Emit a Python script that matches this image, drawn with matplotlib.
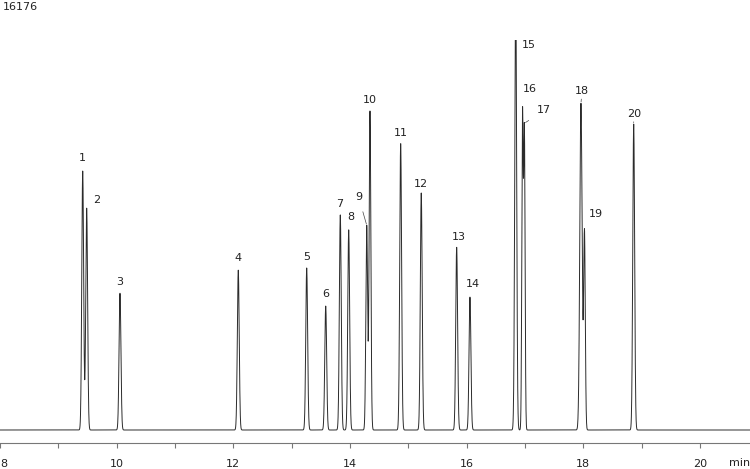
import numpy as np
import matplotlib
matplotlib.use('Agg')
import matplotlib.pyplot as plt

# ------------------------- peak table --------------------------------
peak_ids = [str(i) for i in range(1, 21)]
ret_times = [9.418, 9.486, 10.057, 12.085, 13.258, 13.584, 13.834, 13.978,
             14.287, 14.343, 14.869, 15.222, 15.829, 16.057, 16.841, 16.958,
             16.990, 17.960, 18.020, 18.864]
heights = [10740, 9200, 5680, 6640, 6720, 5140, 8920, 8300,
           8500, 13250, 11900, 9830, 7590, 5520, 18500, 13050,
           12350, 13550, 8200, 12690]
widths = [0.016, 0.016, 0.016, 0.016, 0.016, 0.016, 0.016, 0.016,
          0.015, 0.015, 0.016, 0.016, 0.016, 0.016, 0.016, 0.012,
          0.012, 0.02, 0.014, 0.016]  # sigma, min

y_top = 16176  # full scale shown top left

# label offsets in pixels (dx, dy) and whether a leader line is drawn
label_dx = [0, 10, 0, 0, 0, 0, -1, 2, -8, 0, 0, 0, 2, 3, 13, 7, 20, 1, 11, 0]
label_dy = [13, 8, 11, 12, 11, 12, 11, 13, 28, 11, 11, 9, 10, 13, 0, 18, 13, 12, 15, 10]
leader = [False] * 8 + [True] + [False] * 6 + [False, True, True, False, True, False]

# ------------------------- build trace --------------------------------
t = np.arange(8.0, 20.86, 0.002)
signal = np.zeros_like(t)
for tr, h, s in zip(ret_times, heights, widths):
    signal += h * np.exp(-0.5 * ((t - tr) / s) ** 2)

# ------------------------- plot --------------------------------
fig = plt.figure(figsize=(7.5, 4.69), dpi=100)
ax = fig.add_axes([0, 26 / 469, 1, (443 - 40) / 469])
ax.plot(t, signal, color='#2b2b2b', lw=0.7)

ax.set_xlim(8, 8 + 750 / 58.33)
ax.set_ylim(-13 * y_top / 390, y_top)

for s in ['top', 'left', 'right']:
    ax.spines[s].set_visible(False)
ax.spines['bottom'].set_color('#777777')
ax.spines['bottom'].set_linewidth(0.8)
ax.set_yticks([])

ax.set_xticks(range(8, 21, 2))
ax.set_xticks(range(9, 21, 2), minor=True)
ax.tick_params(axis='x', which='both', direction='out', length=3.6, width=0.8,
               color='#777777', labelsize=8, labelcolor='#222222', pad=8.2)
ax.get_xticklabels()[0].set_horizontalalignment('left')

for i, pid in enumerate(peak_ids):
    tr = ret_times[i]
    if pid == '15':
        ax.annotate(pid, xy=(tr, 1.0), xycoords=('data', 'axes fraction'),
                    xytext=(label_dx[i], -5), textcoords='offset pixels',
                    ha='center', va='center', fontsize=8, color='#222222')
        continue
    top = signal[np.argmin(np.abs(t - tr))]
    if leader[i]:
        ax.annotate(pid, xy=(tr, top), xytext=(label_dx[i], label_dy[i]),
                    textcoords='offset pixels', ha='center', va='center',
                    fontsize=8, color='#222222',
                    arrowprops=dict(arrowstyle='-', color='#444444', lw=0.5,
                                    shrinkA=5, shrinkB=1))
    else:
        ax.annotate(pid, xy=(tr, top), xytext=(label_dx[i], label_dy[i]),
                    textcoords='offset pixels', ha='center', va='center',
                    fontsize=8, color='#222222')

fig.text(3 / 750, 1 - 7 / 469, '16176', ha='left', va='center', fontsize=8,
         color='#222222')
fig.text(740 / 750, 1 - 463 / 469, 'min', ha='center', va='center', fontsize=8,
         color='#222222')

fig.savefig('out.png', dpi=100)
